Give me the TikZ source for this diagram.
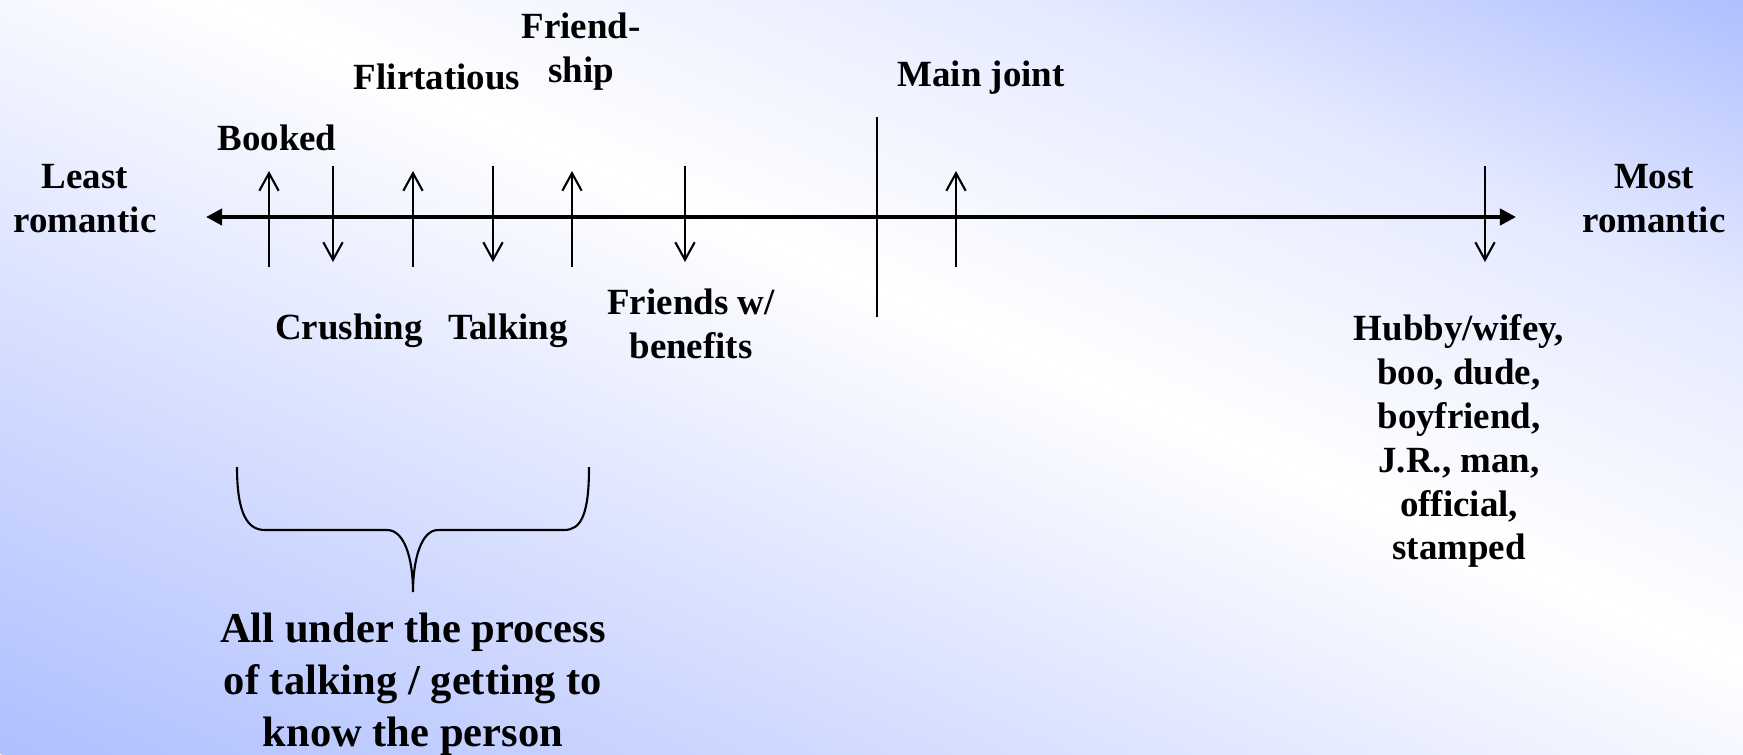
\documentclass[tikz,border=0pt]{standalone}
\usepackage{fontspec}
\setmainfont{Liberation Serif}
\usetikzlibrary{positioning,arrows.meta}
\definecolor{slideblue}{RGB}{175,191,255}
\colorlet{bgmidlow}{slideblue!69!white}
\colorlet{bgmidhigh}{slideblue!34!white}
\pgfdeclareverticalshading{slidebg}{100bp}{color(0bp)=(slideblue); color(25bp)=(slideblue);
  color(34bp)=(bgmidlow); color(53bp)=(white); color(65bp)=(bgmidhigh);
  color(75bp)=(slideblue); color(100bp)=(slideblue)}

\begin{document}
\begin{tikzpicture}[x=0.01cm,y=-0.01cm,
    lbl/.style={font=\fontsize{10.5}{12.5}\selectfont\bfseries,align=center,inner sep=0pt},
    biglbl/.style={font=\fontsize{12.1}{14.8}\selectfont\bfseries,align=center,inner sep=0pt},
    tick/.style={line width=0.6pt,-{Straight Barb[length=5pt,width=5.5pt]}},
    axisline/.style={line width=1.1pt,{Triangle[length=4.6pt,width=4.6pt]}-{Triangle[length=4.6pt,width=4.6pt]}}]
    \useasboundingbox (0,0) rectangle (1743,754);
    % slide background, white along the diagonal
    \begin{scope}
      \clip (0,0) rectangle (1743,754);
      \begin{scope}[transform canvas={rotate around={-23.4:(871.5,377)}}]
        \shade[shading=slidebg] (-130,-315) rectangle (1873,1069);
      \end{scope}
    \end{scope}

    % ends of the scale
    \draw (85,199)   node[lbl] (least) {Least\\romantic} ;
    \draw (1654,199) node[lbl] (most) {Most\\romantic} ;

    \coordinate (axl) at (206,217);
    \coordinate (axr) at (1516,217);
    \draw[axisline] (axl) -- (axr);

    % stages above the line
    \draw (277,138) node[lbl] (booked) {Booked} ;
    \draw (437,77)  node[lbl] (flirt) {Flirtatious} ;
    \draw (581,52)  node[lbl] (friendship) {Friend-\\ship} ;
    \draw (981,78)  node[lbl] (mainjoint) {Main joint} ;

    % stages below the line
    \draw (349,331) node[lbl] (crushing) {Crushing} ;
    \draw (508,331) node[lbl] (talking) {Talking} ;
    \draw (691,324) node[lbl] (fwb) {Friends w/\\benefits} ;
    \draw (1459,441) node[lbl] (hubby) {Hubby/wifey,\\boo, dude,\\boyfriend,\\J.R., man,\\official,\\stamped} ;

    % arrows onto the line
    \coordinate (bk0) at (269,267);  \coordinate (bk1) at (269,171);
    \coordinate (cr0) at (333,166);  \coordinate (cr1) at (333,262);
    \coordinate (fl0) at (413,267);  \coordinate (fl1) at (413,171);
    \coordinate (tk0) at (493,166);  \coordinate (tk1) at (493,262);
    \coordinate (fs0) at (572,267);  \coordinate (fs1) at (572,171);
    \coordinate (fb0) at (685,166);  \coordinate (fb1) at (685,262);
    \coordinate (mj0) at (956,267);  \coordinate (mj1) at (956,171);
    \coordinate (hb0) at (1485,166); \coordinate (hb1) at (1485,262);

    \draw[tick] (bk0) -- (bk1);
    \draw[tick] (cr0) -- (cr1);
    \draw[tick] (fl0) -- (fl1);
    \draw[tick] (tk0) -- (tk1);
    \draw[tick] (fs0) -- (fs1);
    \draw[tick] (fb0) -- (fb1);
    \draw[tick] (mj0) -- (mj1);
    \draw[tick] (hb0) -- (hb1);

    % dividing line
    \coordinate (dv0) at (877,117);
    \coordinate (dv1) at (877,317);
    \draw[line width=0.6pt] (dv0) -- (dv1);

    % brace under the first stages
    \draw[line width=0.6pt] (237,467) .. controls (237,515) and (248,530) .. (265,530)
      -- (387,530) .. controls (405,530) and (413,560) .. (413,592)
      .. controls (413,560) and (421,530) .. (438,530)
      -- (564,530) .. controls (581,530) and (589,515) .. (589,467);
    \draw (413,684) node[biglbl] (process) {All under the process\\of talking / getting to\\know the person} ;
  \end{tikzpicture}
\end{document}
